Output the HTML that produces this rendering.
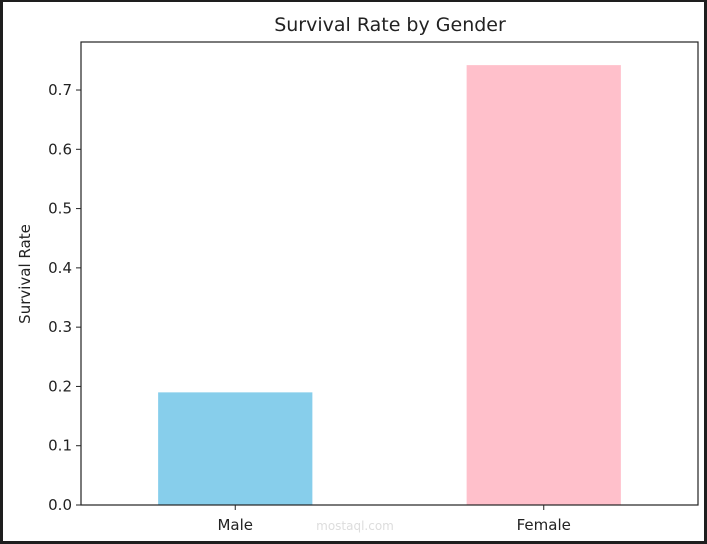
<!DOCTYPE html>
<html><head><meta charset="utf-8"><style>
html,body{margin:0;padding:0;background:#1e1e1e;}
svg{display:block;font-family:"DejaVu Sans","Liberation Sans",sans-serif;}
</style></head><body>
<svg id="chart" width="707" height="544" viewBox="0 0 707 544">
<rect x="3" y="2" width="701" height="539" fill="#ffffff"/>
<text x="390" y="31" text-anchor="middle" font-size="19" fill="#222">Survival Rate by Gender</text>
<text transform="translate(30,274) rotate(-90)" text-anchor="middle" font-size="15" fill="#222">Survival Rate</text>
<g id="bars"></g>
<g id="yticks"></g>
<g id="xticks"></g>
<text x="355" y="530" text-anchor="middle" font-size="12" fill="#ddd">mostaql.com</text>
<rect x="81" y="42" width="617" height="463" fill="none" stroke="#222" stroke-width="1.2"/>
</svg>
<script>
const categories = ["Male", "Female"];
const values = [0.19, 0.742];
const colors = ["#87ceeb", "#ffc0cb"];
const yTicks = [0.0, 0.1, 0.2, 0.3, 0.4, 0.5, 0.6, 0.7];
const yTickLabels = ["0.0","0.1","0.2","0.3","0.4","0.5","0.6","0.7"];

const L=81,R=698,T=42,B=505, yMax=0.781;
const NS="http://www.w3.org/2000/svg";
function y(v){return B-(v/yMax)*(B-T);}
function x(i){return L+(i+0.5)/categories.length*(R-L);}
const bw=0.5*(R-L)/categories.length;
function mk(tag,attrs,parent){const e=document.createElementNS(NS,tag);for(const k in attrs)e.setAttribute(k,attrs[k]);parent.appendChild(e);return e;}
const gb=document.getElementById('bars'),gy=document.getElementById('yticks'),gx=document.getElementById('xticks');
values.forEach((v,i)=>{
  const r=mk('rect',{x:x(i)-bw/2,y:y(v),width:bw,height:B-y(v),fill:colors[i]},gb);
  
  
  const t=mk('line',{x1:x(i),x2:x(i),y1:B,y2:B+5,stroke:'#222'},gx);
  
  
  const l=mk('text',{x:x(i),y:B+25,'text-anchor':'middle','font-size':15,fill:'#222'},gx);
  l.textContent=categories[i];
  
  
});
yTicks.forEach((v,i)=>{
  const t=mk('line',{x1:L-5,x2:L,y1:y(v),y2:y(v),stroke:'#222'},gy);
  
  
  const l=mk('text',{x:L-9,y:y(v)+5,'text-anchor':'end','font-size':15,fill:'#222'},gy);
  l.textContent=yTickLabels[i];
  
  
});
</script>
</body></html>
